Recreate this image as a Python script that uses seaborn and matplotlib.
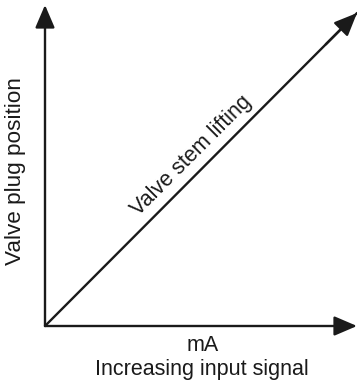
import matplotlib
matplotlib.use("Agg")
import matplotlib.pyplot as plt
import seaborn as sns
import pandas as pd

# Valve stem lifting: plug position rises linearly with input signal
signal = [0.0, 1.0]
plug_position = [0.0, 0.975]

x_label_top = "mA"
x_label_bottom = "Increasing input signal"
y_label = "Valve plug position"
line_label = "Valve stem lifting"

sns.set_style("white")
plt.rcParams["font.family"] = ["Liberation Sans", "DejaVu Sans"]

W, H = 357, 380
fig = plt.figure(figsize=(W / 100, H / 100), dpi=100)
# origin at pixel (45, 326), axes reach to the right and top edges
ax = fig.add_axes([45 / W, (H - 326) / H, (W - 45) / W, (326 - 5) / H])
ax.set_xlim(0, 1)
ax.set_ylim(0, 1)
ax.axis("off")

df = pd.DataFrame({"signal": signal, "position": plug_position})
sns.lineplot(data=df, x="signal", y="position", color="#1a1a1a",
             linewidth=1.7, ax=ax, clip_on=False)

arrow = dict(arrowstyle="-|>,head_length=0.7,head_width=0.3",
             mutation_scale=20, color="#1a1a1a", lw=1.7,
             shrinkA=0, shrinkB=0)
# axes
ax.annotate("", xy=(1, 0), xytext=(0, 0), arrowprops=arrow,
            annotation_clip=False)
ax.annotate("", xy=(0, 1), xytext=(0, 0), arrowprops=arrow,
            annotation_clip=False)
# arrow head on the diagonal
ax.annotate("", xy=(signal[-1], plug_position[-1]),
            xytext=(signal[-1] - 0.1, plug_position[-1] - 0.0975),
            arrowprops=arrow, annotation_clip=False)

fs = 15.5
ax.text(0.468, 0.530, line_label, rotation=45, rotation_mode="anchor",
        ha="center", va="center", fontsize=fs, color="#1a1a1a",
        transform=ax.transAxes)

fig.text(203 / W, 1 - 351 / H, x_label_top, ha="center", va="baseline",
         fontsize=fs, color="#1a1a1a")
fig.text(201.5 / W, 1 - 375 / H, x_label_bottom, ha="center", va="baseline",
         fontsize=fs, color="#1a1a1a")
fig.text(16 / W, 1 - 171 / H, y_label, rotation=90, ha="center",
         va="center", fontsize=16.2, color="#1a1a1a")

fig.savefig("out.png", dpi=100)
